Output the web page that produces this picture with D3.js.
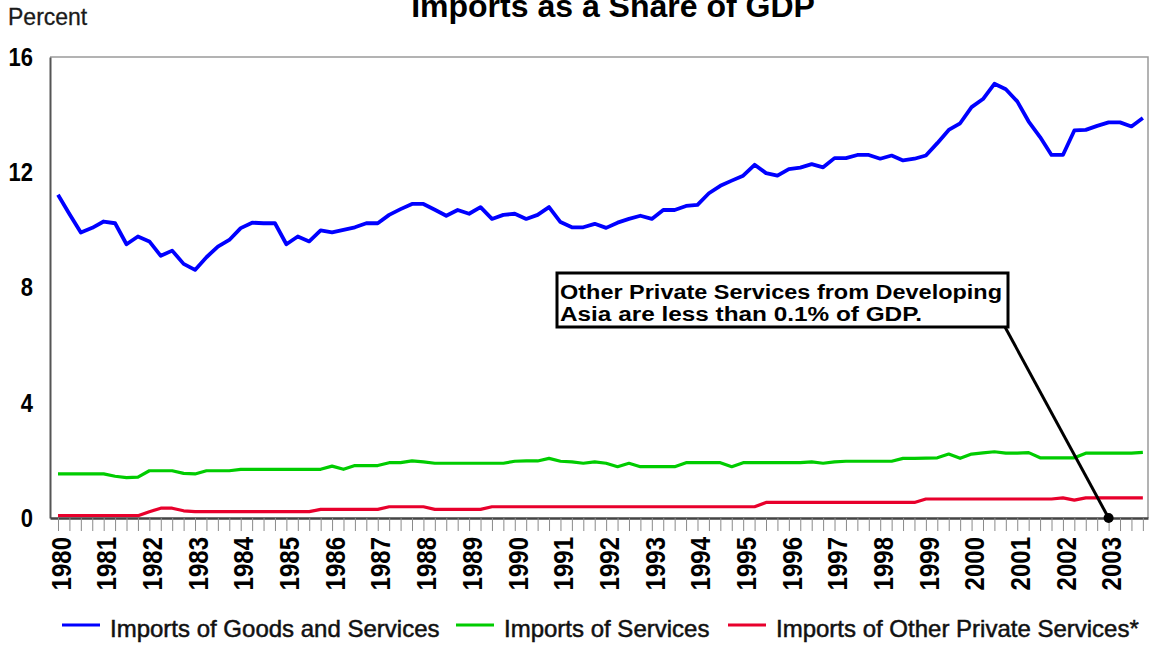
<!DOCTYPE html>
<html>
<head>
<meta charset="utf-8">
<script src="https://cdn.jsdelivr.net/npm/d3@7"></script>
<style>
  html, body { margin: 0; padding: 0; background: #fff; }
  svg { display: block; font-family: "Liberation Sans", Arial, sans-serif; }
</style>
</head>
<body>
<svg id="chart" width="1151" height="647"></svg>
<script>
// Year labels on the horizontal axis (one per first quarter)
const years = [1980, 1981, 1982, 1983, 1984, 1985, 1986, 1987, 1988, 1989, 1990, 1991,
               1992, 1993, 1994, 1995, 1996, 1997, 1998, 1999, 2000, 2001, 2002, 2003];

// Quarterly values, 1980 Q1 .. 2003 Q4, percent of GDP
const goodsServices = [
  11.22, 10.55, 9.91, 10.07, 10.29, 10.23, 9.50, 9.77,
  9.60, 9.10, 9.28, 8.82, 8.61, 9.05, 9.42, 9.65,
  10.06, 10.25, 10.23, 10.23, 9.50, 9.77, 9.60, 9.98,
  9.91, 10.00, 10.09, 10.23, 10.23, 10.52, 10.72, 10.90,
  10.90, 10.70, 10.49, 10.69, 10.56, 10.79, 10.38, 10.52,
  10.56, 10.38, 10.52, 10.79, 10.27, 10.09, 10.09, 10.21,
  10.07, 10.25, 10.38, 10.49, 10.38, 10.69, 10.69, 10.83,
  10.87, 11.27, 11.53, 11.71, 11.88, 12.26, 11.97, 11.88,
  12.11, 12.16, 12.28, 12.17, 12.49, 12.49, 12.60, 12.60,
  12.47, 12.58, 12.41, 12.47, 12.58, 13.01, 13.47, 13.70,
  14.26, 14.54, 15.07, 14.88, 14.46, 13.76, 13.22, 12.60,
  12.60, 13.45, 13.47, 13.61, 13.73, 13.73, 13.59, 13.88
];

const services = [
  1.53, 1.53, 1.53, 1.53, 1.53, 1.45, 1.40, 1.42,
  1.64, 1.64, 1.64, 1.55, 1.53, 1.64, 1.64, 1.64,
  1.69, 1.69, 1.69, 1.69, 1.69, 1.69, 1.69, 1.69,
  1.80, 1.69, 1.82, 1.82, 1.82, 1.92, 1.92, 1.98,
  1.95, 1.90, 1.90, 1.90, 1.90, 1.90, 1.90, 1.90,
  1.97, 1.98, 1.98, 2.07, 1.97, 1.95, 1.90, 1.95,
  1.90, 1.78, 1.90, 1.78, 1.78, 1.78, 1.78, 1.92,
  1.92, 1.92, 1.92, 1.78, 1.92, 1.92, 1.92, 1.92,
  1.92, 1.92, 1.95, 1.90, 1.95, 1.97, 1.97, 1.97,
  1.97, 1.97, 2.07, 2.07, 2.08, 2.09, 2.22, 2.07,
  2.22, 2.26, 2.30, 2.25, 2.25, 2.27, 2.09, 2.09,
  2.09, 2.09, 2.25, 2.25, 2.25, 2.25, 2.25, 2.28
];

const otherPrivate = [
  0.08, 0.08, 0.08, 0.08, 0.08, 0.08, 0.08, 0.08,
  0.22, 0.34, 0.34, 0.25, 0.22, 0.22, 0.22, 0.22,
  0.22, 0.22, 0.22, 0.22, 0.22, 0.22, 0.22, 0.30,
  0.30, 0.30, 0.30, 0.30, 0.30, 0.39, 0.39, 0.39,
  0.39, 0.30, 0.30, 0.30, 0.30, 0.30, 0.39, 0.39,
  0.39, 0.39, 0.39, 0.39, 0.39, 0.39, 0.39, 0.39,
  0.39, 0.39, 0.39, 0.39, 0.39, 0.39, 0.39, 0.39,
  0.39, 0.39, 0.39, 0.39, 0.39, 0.39, 0.54, 0.54,
  0.54, 0.54, 0.54, 0.54, 0.54, 0.54, 0.54, 0.54,
  0.54, 0.54, 0.54, 0.54, 0.66, 0.66, 0.66, 0.66,
  0.66, 0.66, 0.66, 0.66, 0.66, 0.66, 0.66, 0.66,
  0.70, 0.62, 0.70, 0.70, 0.70, 0.70, 0.70, 0.70
];

const yTicks = [0, 4, 8, 12, 16];

const seriesNames = ["Imports of Goods and Services", "Imports of Services", "Imports of Other Private Services*"];
const seriesColors = ["#0000ff", "#00cc00", "#e8002c"];

// Callout marker: 2003 Q1 on the zero line
const calloutQuarter = 92;
const calloutValue = 0;
const calloutLines = ["Other Private Services from Developing", "Asia are less than 0.1% of GDP."];
const calloutWidths = [442, 362];

const svg = d3.select("#chart");
const plotLeft = 50, plotRight = 1148, plotTop = 57, plotBottom = 518;

const x = d3.scaleLinear().domain([-0.7, 95.45]).range([plotLeft, plotRight]);
const y = d3.scaleLinear().domain([0, 16]).range([plotBottom, plotTop]);

// Title and unit label
svg.append("text")
  .attr("x", 613).attr("y", 17)
  .attr("text-anchor", "middle")
  .attr("font-size", 32).attr("font-weight", "bold")
  .attr("fill", "#000")
  .text("Imports as a Share of GDP");

svg.append("text")
  .attr("x", 8).attr("y", 25)
  .attr("font-size", 23)
  .attr("fill", "#1a1a1a")
  .attr("stroke", "#1a1a1a").attr("stroke-width", 0.3)
  .text("Percent");

// Plot frame (top and right sides)
svg.append("path")
  .attr("d", `M${plotLeft},${plotTop}H${plotRight}V${plotBottom}`)
  .attr("fill", "none").attr("stroke", "#9a9a9a").attr("stroke-width", 1.5);

// Series lines
const line = d3.line().x((d, i) => x(i)).y(d => y(d));
[goodsServices, services, otherPrivate].forEach((vals, k) => {
  svg.append("path")
    .datum(vals)
    .attr("d", line)
    .attr("fill", "none")
    .attr("stroke", seriesColors[k])
    .attr("stroke-width", k === 0 ? 3.8 : 3.2)
    .attr("stroke-linejoin", "round");
});

// Left axis
const yAxis = svg.append("g")
  .attr("transform", `translate(${plotLeft},0)`)
  .call(d3.axisLeft(y).tickValues(yTicks).tickSize(0).tickPadding(17));
yAxis.select(".domain").attr("stroke", "#555").attr("stroke-width", 2);
yAxis.selectAll("text")
  .attr("font-family", "Liberation Sans, Arial, sans-serif")
  .attr("font-size", 22).attr("font-weight", "bold").attr("fill", "#000")
  .attr("transform", "scale(1,1.2)");

// Bottom axis: a tick every quarter, year label on each first quarter
const quarterIdx = d3.range(goodsServices.length);
const xAxis = svg.append("g")
  .attr("transform", `translate(0,${plotBottom})`)
  .call(d3.axisBottom(x)
    .tickValues(quarterIdx)
    .tickSize(13)
    .tickSizeOuter(0)
    .tickFormat(i => i % 4 === 0 ? String(years[i / 4]) : ""));
xAxis.select(".domain").attr("stroke", "#444").attr("stroke-width", 2.5);
xAxis.selectAll(".tick line").attr("stroke", "#8a8a8a").attr("stroke-width", 1);
xAxis.selectAll("text")
  .attr("font-family", "Liberation Sans, Arial, sans-serif")
  .attr("font-size", 24).attr("font-weight", "bold").attr("fill", "#000")
  .attr("text-anchor", "end")
  .attr("transform", "rotate(-90) scale(1,1.15)")
  .attr("x", -19).attr("y", 2).attr("dy", "0.36em");

// Callout box with leader line and marker
const box = { x: 557, y: 273, w: 451, h: 54 };
svg.append("line")
  .attr("x1", box.x + box.w - 3).attr("y1", box.y + box.h)
  .attr("x2", x(calloutQuarter)).attr("y2", y(calloutValue))
  .attr("stroke", "#000").attr("stroke-width", 3);
svg.append("rect")
  .attr("x", box.x).attr("y", box.y).attr("width", box.w).attr("height", box.h)
  .attr("fill", "#fff").attr("stroke", "#000").attr("stroke-width", 3);
calloutLines.forEach((t, i) => {
  svg.append("text")
    .attr("x", box.x + 3).attr("y", box.y + 26 + i * 22)
    .attr("font-size", 20).attr("font-weight", "bold").attr("fill", "#000")
    .attr("textLength", calloutWidths[i])
    .attr("lengthAdjust", "spacingAndGlyphs")
    .text(t);
});
svg.append("circle")
  .attr("cx", x(calloutQuarter)).attr("cy", y(calloutValue))
  .attr("r", 5).attr("fill", "#000");

// Legend
const legendX = [62, 456, 728];
const legend = svg.append("g");
seriesNames.forEach((name, k) => {
  legend.append("line")
    .attr("x1", legendX[k]).attr("x2", legendX[k] + 38)
    .attr("y1", 625).attr("y2", 625)
    .attr("stroke", seriesColors[k]).attr("stroke-width", 3);
  legend.append("text")
    .attr("x", legendX[k] + 48).attr("y", 637)
    .attr("font-size", 24).attr("fill", "#111")
    .attr("stroke", "#111").attr("stroke-width", 0.5)
    .text(name);
});
</script>
</body>
</html>
